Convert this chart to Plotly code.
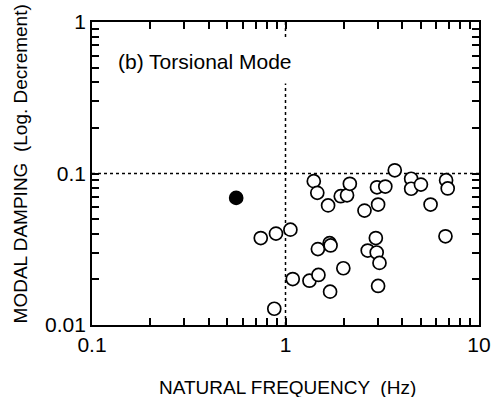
import plotly.graph_objects as go

# Data
freq_open = [3.67, 1.40, 1.46, 1.66, 1.93, 2.08, 2.15, 2.56, 2.97, 3.28, 3.01,
             4.46, 4.46, 5.01, 5.62, 6.76, 6.89, 6.71, 0.745, 0.893, 1.06,
             1.47, 1.69, 1.71, 2.66, 2.93, 2.96, 3.06, 1.99, 1.09, 1.33, 1.48,
             1.70, 3.01, 0.875]
damp_open = [0.105, 0.089, 0.0745, 0.0616, 0.0708, 0.0718, 0.0855, 0.0569, 0.0811,
             0.082, 0.0624, 0.0923, 0.0793, 0.0845, 0.0624, 0.0904, 0.0797, 0.0385,
             0.0375, 0.0401, 0.0426, 0.0317, 0.0347, 0.0335, 0.031, 0.0375, 0.0301,
             0.0257, 0.0237, 0.0201, 0.0196, 0.0214, 0.0166, 0.0181, 0.0128]
freq_filled = [0.556]
damp_filled = [0.069]

ref_freq = 1.0
ref_damp = 0.1

x_major = [0.1, 1, 10]
x_major_text = ["0.1", "1", "10"]
y_major = [0.01, 0.1, 1]
y_major_text = ["0.01", "0.1", "1"]

def ticks_with_minor(major, text):
    vals, labels = [], []
    for v, t in zip(major, text):
        vals.append(v)
        labels.append(t)
    for v in major[:-1]:
        for m in range(2, 10):
            vals.append(v * m)
            labels.append("")
    return vals, labels

FONT = "Liberation Sans, Arial, sans-serif"

all_freq = freq_open + freq_filled
all_damp = damp_open + damp_filled
fill_colors = ["white"] * len(freq_open) + ["black"] * len(freq_filled)

fig = go.Figure()
fig.add_trace(go.Scatter(x=[ref_freq, ref_freq], y=[0.01, 1], mode="lines",
                         line=dict(color="black", width=1.5, dash="dot"),
                         hoverinfo="skip", showlegend=False))
fig.add_trace(go.Scatter(x=[0.1, 10], y=[ref_damp, ref_damp], mode="lines",
                         line=dict(color="black", width=1.5, dash="dot"),
                         hoverinfo="skip", showlegend=False))
fig.add_trace(go.Scatter(x=all_freq, y=all_damp, mode="markers",
                         marker=dict(size=13, color=fill_colors,
                                     line=dict(color="black", width=1.7)),
                         showlegend=False))

axis_common = dict(type="log", showgrid=False, zeroline=False,
                   showline=True, linecolor="black", linewidth=1.7,
                   mirror="ticks", ticks="inside", ticklen=7, tickwidth=1.6,
                   tickcolor="rgb(0,0,0)",
                   tickfont=dict(family=FONT, size=21, color="black"))

xv, xt = ticks_with_minor(x_major, x_major_text)
yv, yt = ticks_with_minor(y_major, y_major_text)

fig.update_xaxes(range=[-1, 1], tickvals=xv, ticktext=xt, **axis_common)
fig.update_yaxes(range=[-2, 0], tickvals=yv, ticktext=yt, **axis_common)

fig.add_annotation(text="(b) Torsional Mode", xref="paper", yref="paper",
                   x=0.04, y=0.871, xanchor="left", yanchor="middle",
                   showarrow=False, bgcolor="white", borderpad=10,
                   font=dict(family=FONT, size=21, color="black"))
fig.add_annotation(text="NATURAL FREQUENCY  (Hz)", xref="paper", yref="paper",
                   x=0.505, y=-0.205, xanchor="center", yanchor="middle",
                   showarrow=False,
                   font=dict(family=FONT, size=19, color="black"))
fig.add_annotation(text="MODAL DAMPING  (Log. Decrement)", xref="paper", yref="paper",
                   x=-0.186, y=0.53, xanchor="center", yanchor="middle",
                   textangle=-90, showarrow=False,
                   font=dict(family=FONT, size=19, color="black"))

fig.update_layout(width=501, height=397,
                  margin=dict(l=92, r=10, t=22, b=72),
                  paper_bgcolor="white", plot_bgcolor="white",
                  showlegend=False)

fig.write_html("out.html")
